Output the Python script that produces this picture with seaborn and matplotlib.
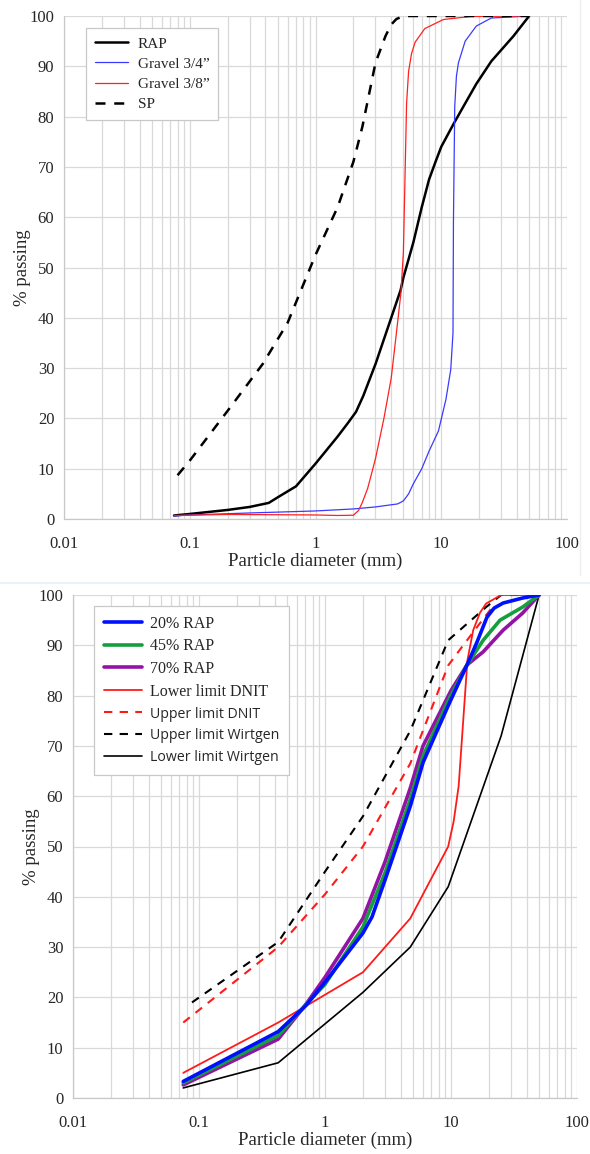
import matplotlib
matplotlib.use("Agg")
import matplotlib.pyplot as plt
import seaborn as sns
import pandas as pd
import numpy as np
from matplotlib.ticker import FixedLocator, NullFormatter, FixedFormatter
from matplotlib.lines import Line2D

# ---------------- Data: top panel ----------------
rap_d = [0.075, 0.1, 0.2, 0.3, 0.425, 0.5, 0.7, 1, 1.5, 1.8, 2.1, 2.4, 3, 4, 4.75, 5, 6, 7, 8, 9, 10, 12.5, 15, 19, 25, 37.5, 50]
rap_p = [0.7, 1.0, 1.8, 2.4, 3.2, 4.3, 6.5, 11, 16.4, 19, 21.3, 24.5, 30.8, 40, 45.5, 48, 55, 62, 67.5, 71, 74, 78.5, 82, 86.5, 91, 96, 100]

g34_d = [0.075, 0.1, 0.3, 1, 2, 3, 4.5, 5, 5.5, 6, 7, 8, 9.5, 10.9, 11.9, 12.4, 12.5, 12.8, 13.2, 13.7, 15.5, 19, 25, 50]
g34_p = [0.6, 0.8, 1.2, 1.6, 2.0, 2.4, 3.0, 3.6, 5, 7, 10, 13.5, 17.5, 23.8, 29.7, 37, 59, 82, 88, 90.7, 95, 98, 99.6, 100]

g38_d = [0.075, 0.2, 0.5, 1, 1.5, 2, 2.2, 2.35, 2.6, 3, 3.5, 4, 4.4, 4.78, 5, 5.13, 5.3, 5.5, 5.8, 6.2, 7.4, 10.4, 17, 50]
g38_p = [0.7, 0.9, 0.85, 0.8, 0.7, 0.75, 1.7, 3.2, 6.1, 12, 20, 28, 37, 45, 53, 66, 82.6, 89, 92.5, 94.8, 97.5, 99.3, 99.9, 100]

sp_d = [0.08, 0.1, 0.2, 0.38, 0.6, 1, 1.5, 2, 2.36, 3, 3.6, 4, 4.4, 5, 50]
sp_p = [8.7, 11.6, 21.5, 30.8, 39, 52.5, 62, 71, 78, 90.7, 96, 98.3, 99.4, 100, 100]

# ---------------- Data: bottom panel ----------------
r20_d = [0.075, 0.425, 0.7, 1, 2, 2.36, 3, 4.75, 6, 9.5, 13.4, 16, 19.3, 22, 25.9, 37, 50]
r20_p = [3.3, 13.2, 18.3, 23, 32.8, 36, 43.4, 58, 66.7, 78, 86.1, 90.5, 95.6, 97.4, 98.4, 99.4, 100]

r45_d = [0.075, 0.425, 0.7, 1, 2, 3, 4.75, 6, 9.5, 13.4, 18, 24.5, 37, 50]
r45_p = [3.0, 12.4, 18.5, 22.6, 34, 44.8, 59.4, 68, 79, 86.1, 91, 95, 97.6, 100]

r70_d = [0.075, 0.425, 0.7, 1, 2, 3, 4.75, 6, 10, 13.4, 18, 25.9, 37, 50]
r70_p = [2.6, 11.7, 18.5, 24, 35.7, 47, 61.6, 70, 81, 86.1, 88.7, 93, 96.4, 100]

lo_dnit_d = [0.075, 0.425, 2, 4.75, 9.5, 10.5, 11.5, 12.5, 13.5, 15, 17, 19, 25, 50]
lo_dnit_p = [5, 15, 25, 35.7, 50, 55, 62, 75, 87, 93, 96.5, 98.3, 100, 100]

up_dnit_d = [0.075, 0.425, 1, 2, 4.75, 9.5, 12.5, 19, 22]
up_dnit_p = [15, 30, 40.5, 50, 66.5, 86, 90, 96, 98]

up_wirt_d = [0.088, 0.425, 1, 2, 4.75, 9.5, 19, 25, 50]
up_wirt_p = [19, 31, 45, 56, 73, 91, 97.6, 100, 100]

lo_wirt_d = [0.075, 0.425, 2, 4.75, 9.5, 25, 50]
lo_wirt_p = [2, 7, 21, 30, 42, 72, 100]

x_ticks = [0.01, 0.1, 1, 10, 100]
x_tick_labels = ["0.01", "0.1", "1", "10", "100"]
y_ticks = list(range(0, 101, 10))

# ---------------- Style ----------------
sns.set_style("white")
plt.rcParams["font.family"] = ["Liberation Serif", "DejaVu Serif"]
SERIF = "Liberation Serif"
SANS = "Open Sans"

W, H = 590, 1154
fig = plt.figure(figsize=(W / 100, H / 100), dpi=100)

def ax_rect(l, t, r, b):
    return [l / W, 1 - b / H, (r - l) / W, (b - t) / H]

ax1 = fig.add_axes(ax_rect(64, 16, 567, 519))
ax2 = fig.add_axes(ax_rect(73, 595, 577, 1098))

def draw(ax, d, p, color, lw, ls="-", label=None):
    df = pd.DataFrame({"d": d, "p": p})
    sns.lineplot(data=df, x="d", y="p", ax=ax, color=color, lw=lw, ls=ls,
                 sort=False, estimator=None, label=label, legend=False)

def style_axes(ax):
    ax.set_xscale("log")
    ax.set_xlim(0.01, 100)
    ax.set_ylim(0, 100)
    minor = [m * 10.0 ** e for e in range(-2, 2) for m in range(2, 10)]
    ax.xaxis.set_major_locator(FixedLocator(x_ticks))
    ax.xaxis.set_major_formatter(FixedFormatter(x_tick_labels))
    ax.xaxis.set_minor_locator(FixedLocator(minor))
    ax.xaxis.set_minor_formatter(NullFormatter())
    ax.yaxis.set_major_locator(FixedLocator(y_ticks))
    ax.yaxis.set_minor_locator(FixedLocator(list(range(5, 100, 10))))
    ax.grid(which="major", axis="both", color="#d9d9d9", lw=0.9)
    ax.grid(which="minor", axis="x", color="#d9d9d9", lw=0.9)
    ax.tick_params(axis="both", which="major", length=0, labelsize=12, pad=7)
    ax.tick_params(axis="x", which="major", pad=12)
    ax.tick_params(axis="y", which="minor", length=4, direction="in", color="#c8c8c8", width=0.8)
    ax.tick_params(axis="x", which="minor", length=0)
    for lab in ax.get_xticklabels() + ax.get_yticklabels():
        lab.set_family(SERIF)
    for s in ["top", "right"]:
        ax.spines[s].set_visible(False)
    for s in ["left", "bottom"]:
        ax.spines[s].set_color("#c8c8c8")
        ax.spines[s].set_linewidth(0.9)
    ax.set_xlabel("Particle diameter (mm)", fontsize=13.5, family=SERIF, labelpad=1)
    ax.set_ylabel("% passing", fontsize=13.5, family=SERIF, labelpad=-1)
    ax.set_axisbelow(True)

DASH = (0, (4, 3.5))

# ---------------- Top panel ----------------
draw(ax1, rap_d, rap_p, "black", 1.8)
draw(ax1, g34_d, g34_p, "#3a3aff", 0.9)
draw(ax1, g38_d, g38_p, "#ff2020", 0.9)
draw(ax1, sp_d, sp_p, "black", 1.8, ls=DASH)
style_axes(ax1)
h1 = [Line2D([], [], color="black", lw=1.8),
      Line2D([], [], color="#3a3aff", lw=0.9),
      Line2D([], [], color="#ff2020", lw=0.9),
      Line2D([], [], color="black", lw=1.8, ls=DASH)]
leg1 = ax1.legend(h1, ["RAP", "Gravel 3/4\u201d", "Gravel 3/8\u201d", "SP"],
                  loc="upper left", bbox_to_anchor=(22 / 503, 1 - 12 / 503),
                  borderaxespad=0,
                  prop={"family": SERIF, "size": 11}, frameon=True, fancybox=False,
                  edgecolor="#c8c8c8", framealpha=1, handlelength=2.2,
                  labelspacing=0.43, borderpad=0.58, handletextpad=0.6)
leg1.get_frame().set_linewidth(0.9)

# ---------------- Bottom panel ----------------
c20, c45, c70 = "#0010ff", "#13a03c", "#9412a6"
RED = "#ff1a1a"
draw(ax2, lo_wirt_d, lo_wirt_p, "black", 1.2)
draw(ax2, up_wirt_d, up_wirt_p, "black", 1.5, ls=DASH)
draw(ax2, up_dnit_d, up_dnit_p, RED, 1.5, ls=DASH)
draw(ax2, lo_dnit_d, lo_dnit_p, RED, 1.3)
draw(ax2, r70_d, r70_p, c70, 2.6)
draw(ax2, r45_d, r45_p, c45, 2.6)
draw(ax2, r20_d, r20_p, c20, 2.6)
style_axes(ax2)
h2 = [Line2D([], [], color=c20, lw=2.6),
      Line2D([], [], color=c45, lw=2.6),
      Line2D([], [], color=c70, lw=2.6),
      Line2D([], [], color=RED, lw=1.3),
      Line2D([], [], color=RED, lw=1.5, ls=DASH),
      Line2D([], [], color="black", lw=1.5, ls=DASH),
      Line2D([], [], color="black", lw=1.2)]
labels2 = ["20% RAP", "45% RAP", "70% RAP", "Lower limit DNIT",
           "Upper limit DNIT", "Upper limit Wirtgen", "Lower limit Wirtgen"]
leg2 = ax2.legend(h2, labels2, loc="upper left", bbox_to_anchor=(21 / 504, 1 - 11 / 503),
                  borderaxespad=0,
                  prop={"family": SERIF, "size": 11.5}, frameon=True, fancybox=False,
                  edgecolor="#c8c8c8", framealpha=1, handlelength=2.4,
                  labelspacing=0.42, borderpad=0.6, handletextpad=0.5)
leg2.get_frame().set_linewidth(0.9)
for t in leg2.get_texts()[4:]:
    t.set_family(SANS)
    t.set_fontsize(10.2)

# faint separators seen in the reference
fig.add_artist(Line2D([0, 1], [1 - 583 / H, 1 - 583 / H], color="#e6f0f6", lw=1.2))
fig.add_artist(Line2D([580 / W, 580 / W], [1 - 575 / H, 1.0], color="#eeeeee", lw=1.0))

fig.savefig("out.png", dpi=100, facecolor="white")
